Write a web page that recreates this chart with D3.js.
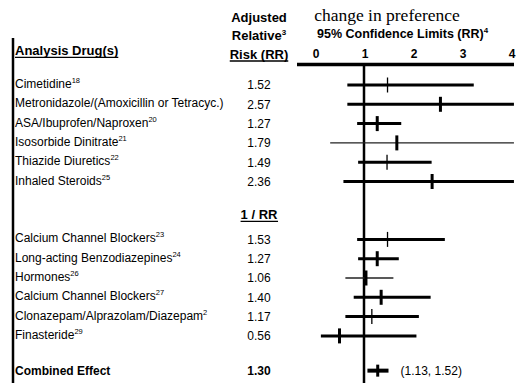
<!DOCTYPE html>
<html>
<head>
<meta charset="utf-8">
<script src="https://cdn.jsdelivr.net/npm/d3@7"></script>
<style>
  html, body { margin: 0; padding: 0; background: #fff; }
  svg { display: block; }
  text { font-family: "Liberation Sans", Arial, sans-serif; fill: #000; }
</style>
</head>
<body>
<svg id="chart" width="516" height="383"></svg>
<script>
// ---- data ----
const drugs = [
  "Cimetidine", "Metronidazole/(Amoxicillin or Tetracyc.)", "ASA/Ibuprofen/Naproxen",
  "Isosorbide Dinitrate", "Thiazide Diuretics", "Inhaled Steroids",
  "Calcium Channel Blockers", "Long-acting Benzodiazepines", "Hormones",
  "Calcium Channel Blockers", "Clonazepam/Alprazolam/Diazepam", "Finasteride"
];
const refs = ["18", "", "20", "21", "22", "25", "23", "24", "26", "27", "2", "29"];
const group = [1, 1, 1, 1, 1, 1, 2, 2, 2, 2, 2, 2];
const rrText = ["1.52", "2.57", "1.27", "1.79", "1.49", "2.36", "1.53", "1.27", "1.06", "1.40", "1.17", "0.56"];
const estimate = [1.48, 2.56, 1.27, 1.67, 1.47, 2.39, 1.48, 1.27, 1.04, 1.35, 1.16, 0.50];
const lower = [0.66, 0.66, 0.86, 0.31, 0.88, 0.58, 0.86, 0.88, 0.62, 0.79, 0.62, 0.12];
const upper = [3.24, 4.06, 1.76, 4.06, 2.38, 4.06, 2.65, 1.71, 1.60, 2.36, 2.12, 2.07];

const combinedLabel = "Combined Effect";
const combinedRR = "1.30";
const combinedEst = 1.28;
const combinedLower = 1.07;
const combinedUpper = 1.50;
const combinedCI = "(1.13, 1.52)";

const axisTicks = [0, 1, 2, 3, 4];
const group2Header = "1 / RR";

// ---- styles (kept apart from data) ----
const thinTickRows = new Set([0, 4, 6, 10]);
const thinBarRows = new Set([3, 8]);

// ---- scales ----
const svg = d3.select("#chart");
const x = d3.scaleLinear().domain([0, 4]).range([315, 511]);
const rowIndex = (i) => group[i] === 1 ? i : i + 2;   // blank row + header between groups
const y = d3.scaleLinear().domain([0, 1]).range([85, 104.3]);
const yHeader2 = y(6.7);
const yCombined = y(14.8);

const labelX = 15;
const valueX = 259;

// ---- headers ----
function underline(sel, yLine, w) {
  const b = sel.node().getBBox();
  svg.append("line")
    .attr("x1", b.x).attr("x2", b.x + b.width)
    .attr("y1", yLine).attr("y2", yLine)
    .attr("stroke", "#000").attr("stroke-width", w || 1.3);
}

const hd = svg.append("text").attr("x", labelX).attr("y", 54.5)
  .attr("font-size", 13).attr("font-weight", "bold").text("Analysis Drug(s)");
underline(hd, 57.3);

svg.append("text").attr("x", valueX).attr("y", 21.7).attr("text-anchor", "middle")
  .attr("font-size", 13).attr("font-weight", "bold").text("Adjusted");
const rel = svg.append("text").attr("x", valueX).attr("y", 39.7).attr("text-anchor", "middle")
  .attr("font-size", 13).attr("font-weight", "bold");
rel.append("tspan").text("Relative");
rel.append("tspan").attr("font-size", 8).attr("dy", -5).text("3");
const risk = svg.append("text").attr("x", valueX).attr("y", 58.5).attr("text-anchor", "middle")
  .attr("font-size", 13).attr("font-weight", "bold").text("Risk (RR)");
underline(risk, 61);

svg.append("text").attr("x", 387).attr("y", 21).attr("text-anchor", "middle")
  .style("font-family", "'Liberation Serif', 'Times New Roman', serif")
  .attr("font-size", 17.5).text("change in preference");

const ci = svg.append("text").attr("x", 317).attr("y", 37.5)
  .attr("font-size", 12.5).attr("font-weight", "bold");
ci.append("tspan").text("95% Confidence Limits (RR)");
ci.append("tspan").attr("font-size", 8).attr("dy", -5).text("4");

// axis tick labels
svg.selectAll("text.tick").data(axisTicks).join("text")
  .attr("class", "tick")
  .attr("x", d => x(d) + 1).attr("y", 58)
  .attr("text-anchor", "middle").attr("font-size", 12).attr("font-weight", "bold")
  .text(d => d);

// axis line
svg.append("line").attr("x1", 297).attr("x2", 514).attr("y1", 64.5).attr("y2", 64.5)
  .attr("stroke", "#000").attr("stroke-width", 3.5);

// reference line at RR = 1
svg.append("line").attr("x1", x(1)).attr("x2", x(1)).attr("y1", 64).attr("y2", 383)
  .attr("stroke", "#000").attr("stroke-width", 2.5);

// left rule
svg.append("line").attr("x1", 13).attr("x2", 13).attr("y1", 38).attr("y2", 383)
  .attr("stroke", "#000").attr("stroke-width", 2.5);

// group 2 header
const g2 = svg.append("text").attr("x", valueX).attr("y", yHeader2 + 4.5).attr("text-anchor", "middle")
  .attr("font-size", 13).attr("font-weight", "bold").text(group2Header);
underline(g2, yHeader2 + 7);

// ---- rows ----
const rows = drugs.map((d, i) => ({
  i, name: d, ref: refs[i], rr: rrText[i], est: estimate[i], lo: lower[i], hi: upper[i],
  yy: y(rowIndex(i))
}));

rows.forEach(r => {
  const t = svg.append("text").attr("x", labelX).attr("y", r.yy + 3).attr("font-size", 12);
  t.append("tspan").text(r.name);
  if (r.ref) t.append("tspan").attr("font-size", 7.5).attr("dy", -5).text(r.ref);

  svg.append("text").attr("x", valueX).attr("y", r.yy + 4.3).attr("text-anchor", "middle")
    .attr("font-size", 12).text(r.rr);

  const thinBar = thinBarRows.has(r.i);
  svg.append("line").attr("x1", x(r.lo)).attr("x2", x(r.hi)).attr("y1", r.yy).attr("y2", r.yy)
    .attr("stroke", thinBar ? "#222" : "#000").attr("stroke-width", thinBar ? 1.4 : 3);

  const thinTick = thinTickRows.has(r.i);
  svg.append("line").attr("x1", x(r.est)).attr("x2", x(r.est)).attr("y1", r.yy - 7.5).attr("y2", r.yy + 7.5)
    .attr("stroke", "#000").attr("stroke-width", thinTick ? 1.3 : 3);
});

// ---- combined effect ----
svg.append("text").attr("x", labelX).attr("y", yCombined + 4.5)
  .attr("font-size", 12).attr("font-weight", "bold").text(combinedLabel);
svg.append("text").attr("x", valueX).attr("y", yCombined + 4.5).attr("text-anchor", "middle")
  .attr("font-size", 12).attr("font-weight", "bold").text(combinedRR);
svg.append("line").attr("x1", x(combinedLower)).attr("x2", x(combinedUpper))
  .attr("y1", yCombined).attr("y2", yCombined).attr("stroke", "#000").attr("stroke-width", 4);
svg.append("line").attr("x1", x(combinedEst)).attr("x2", x(combinedEst))
  .attr("y1", yCombined - 6).attr("y2", yCombined + 6).attr("stroke", "#000").attr("stroke-width", 3);
svg.append("text").attr("x", x(combinedUpper) + 12).attr("y", yCombined + 4.3)
  .attr("font-size", 12).text(combinedCI);
</script>
</body>
</html>
